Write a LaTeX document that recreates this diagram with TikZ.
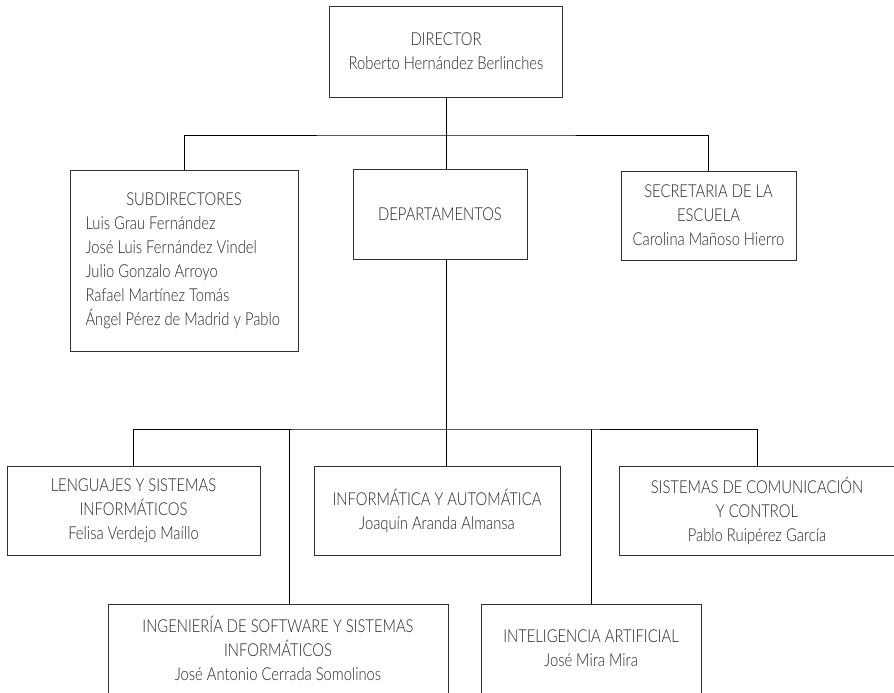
\documentclass[tikz,border=0pt]{standalone}
\usepackage{fontspec}
\setmainfont{Lato}[UprightFont=* Light, FakeStretch=0.83]
\usepackage{tikz}

\begin{document}
\begin{tikzpicture}[x=1pt,y=-1pt,
    caja/.style={draw=black!80, line width=0.9pt, align=center, inner sep=0pt,
        text=black!85, font=\fontsize{17.8}{24}\selectfont},
    linea/.style={line width=0.8pt}]
        \useasboundingbox (0,0) rectangle (894,693);
        \clip (0,0) rectangle (894,692);
        % direccion
        \node[caja, minimum width=233, minimum height=91] (dir) at (446,51.5) {DIRECTOR\\Roberto Hernández Berlinches};
        \node[caja, minimum width=228, minimum height=181, align=left] (sub) at (184,260.5) {\makebox[197pt]{SUBDIRECTORES}\\Luis Grau Fernández\\José Luis Fernández Vindel\\Julio Gonzalo Arroyo\\Rafael Martínez Tomás\\Ángel Pérez de Madrid y Pablo};
        \node[caja, minimum width=174, minimum height=90] (dep) at (440,214) {DEPARTAMENTOS};
        \node[caja, minimum width=175, minimum height=89] (sec) at (708.5,215.5) {SECRETARIA DE LA\\ESCUELA\\Carolina Mañoso Hierro};
        % departamentos
        \node[caja, minimum width=253, minimum height=89] (len) at (133.5,510.5) {LENGUAJES Y SISTEMAS\\INFORMÁTICOS\\Felisa Verdejo Maíllo};
        \node[caja, minimum width=246, minimum height=89] (inf) at (437,510.5) {INFORMÁTICA Y AUTOMÁTICA\\Joaquín Aranda Almansa};
        \node[caja, minimum width=276, minimum height=89] (sis) at (757,510.5) {SISTEMAS DE COMUNICACIÓN\\Y CONTROL\\Pablo Ruipérez García};
        \node[caja, minimum width=340, minimum height=89] (ing) at (278,648.5) {INGENIERÍA DE SOFTWARE Y SISTEMAS\\INFORMÁTICOS\\José Antonio Cerrada Somolinos};
        \node[caja, minimum width=220, minimum height=89] (int) at (591,648.5) {INTELIGENCIA ARTIFICIAL\\José Mira Mira};
        % lineas
        \coordinate (bus1) at (446,135);
        \draw[linea] (dir.south) -- (bus1);
        \draw[linea] (sub.north) |- (bus1) -| (sec.north);
        \draw[linea] (bus1) -- (bus1 |- dep.north);
        \coordinate (bus2) at (446,429);
        \draw[linea] (dep.south -| bus2) -- (bus2);
        \draw[linea] (len.north) |- (bus2) -| (sis.north);
        \draw[linea] (bus2) -- (bus2 |- inf.north);
        \coordinate (ramaIng) at (289,429);
        \coordinate (ramaInt) at (591,429);
        \draw[linea] (ramaIng) -- (ramaIng |- ing.north);
        \draw[linea] (ramaInt) -- (int.north);
\end{tikzpicture}
\end{document}
